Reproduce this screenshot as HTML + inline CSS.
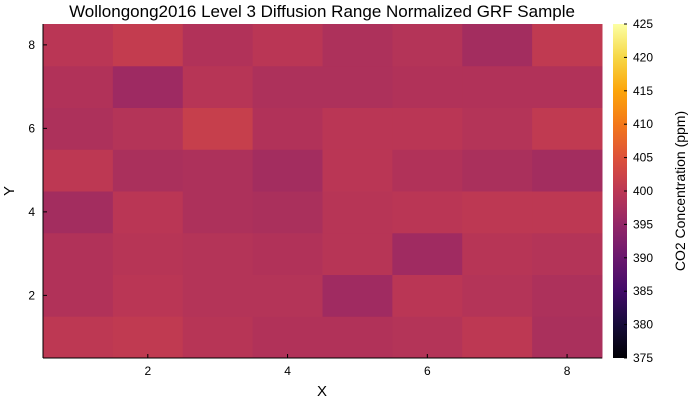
<!DOCTYPE html>
<html><head><meta charset="utf-8"><style>
body{margin:0;background:#fff;font-family:"Liberation Sans",sans-serif;}
svg text{font-family:"Liberation Sans",sans-serif;}
</style></head><body>
<svg id="c" width="700" height="400"></svg>
<script>
const xCats=[1,2,3,4,5,6,7,8];
const yCats=[1,2,3,4,5,6,7,8];
const row1=[400.2,400.6,399.4,398.6,398.6,399,400.2,397.8];
const row2=[398.6,399.8,399,399,396.6,399.8,399,398.2];
const row3=[398.6,399.4,399,398.6,399.4,396.6,399.4,399];
const row4=[397,399.8,398.2,397.8,399.4,399.8,400.2,400.2];
const row5=[400.2,397.8,398.2,397,399.8,398.6,397.8,397];
const row6=[398.2,399,401.5,398.6,399.8,399.8,399,400.6];
const row7=[398.6,396.3,399.4,398.2,398.2,398.6,398.6,398.6];
const row8=[399.8,401,398.6,399.8,398.2,399,397,400.6];
const rows=[row1,row2,row3,row4,row5,row6,row7,row8];
const xTicks=[2,4,6,8];
const yTicks=[2,4,6,8];
const cbTicks=[375,380,385,390,395,400,405,410,415,420,425];
const vmin=375,vmax=425;
const NS="http://www.w3.org/2000/svg";
const svg=document.getElementById('c');
const L=43,R=602,T=24,B=358;
const sx=v=>L+(v-0.5)/8*(R-L);
const sy=v=>B-(v-0.5)/8*(B-T);
const stops=["#000004","#160b39","#420a68","#6a176e","#932667","#bc3754","#dd513a","#f37819","#fca50a","#f6d746","#fcffa4"];
function hex(h){return [1,3,5].map(i=>parseInt(h.substr(i,2),16));}
function cmap(v){let t=Math.max(0,Math.min(1,(v-vmin)/(vmax-vmin)))*10;let i=Math.min(9,Math.floor(t));let f=t-i;let a=hex(stops[i]),b=hex(stops[i+1]);return `rgb(${a.map((c,k)=>Math.round(c+(b[k]-c)*f)).join(',')})`;}
function el(tag,attrs,txt){const e=document.createElementNS(NS,tag);for(const k in attrs)e.setAttribute(k,attrs[k]);if(txt!==undefined)e.textContent=txt;svg.appendChild(e);return e;}
rows.forEach((r,yi)=>r.forEach((v,xi)=>{
 const x0=sx(xCats[xi]-0.5),x1=sx(xCats[xi]+0.5),y0=sy(yCats[yi]+0.5),y1=sy(yCats[yi]-0.5);
 const c=el('rect',{x:x0,y:y0,width:x1-x0+0.5,height:y1-y0+0.5,fill:cmap(v)});
 
 
}));
const ax=el('line',{x1:L,y1:B,x2:R,y2:B,stroke:'#000','stroke-width':1});

const ay=el('line',{x1:L,y1:T,x2:L,y2:B,stroke:'#000','stroke-width':1});

xTicks.forEach(t=>{el('line',{x1:sx(t),y1:B,x2:sx(t),y2:B-4,stroke:'#000'});
 const l=el('text',{x:sx(t),y:B+17,'text-anchor':'middle','font-size':12},t);
 });
yTicks.forEach(t=>{el('line',{x1:L,y1:sy(t),x2:L+4,y2:sy(t),stroke:'#000'});
 const l=el('text',{x:L-8,y:sy(t)+4,'text-anchor':'end','font-size':12},t);
 });
const CL=613,CR=627;
const grad=el('defs',{});
const lg=document.createElementNS(NS,'linearGradient');lg.setAttribute('id','g');lg.setAttribute('x1','0');lg.setAttribute('y1','1');lg.setAttribute('x2','0');lg.setAttribute('y2','0');
for(let i=0;i<=20;i++){const s=document.createElementNS(NS,'stop');s.setAttribute('offset',i/20);s.setAttribute('stop-color',cmap(vmin+(vmax-vmin)*i/20));lg.appendChild(s);}
grad.appendChild(lg);
const cb=el('rect',{x:CL,y:T,width:CR-CL,height:B-T,fill:'url(#g)'});

const cy=v=>B-(v-vmin)/(vmax-vmin)*(B-T);
cbTicks.forEach(t=>{el('line',{x1:CR-3,y1:cy(t),x2:CR,y2:cy(t),stroke:'#000'});
 const l=el('text',{x:CR+6,y:cy(t)+4,'font-size':12},t);
 });
const cbt=el('text',{x:685,y:191,'text-anchor':'middle','font-size':14,transform:'rotate(-90 685 191)'},'CO2 Concentration (ppm)');

const ti=el('text',{x:322,y:17,'text-anchor':'middle','font-size':17},'Wollongong2016 Level 3 Diffusion Range Normalized GRF Sample');

const xl=el('text',{x:322,y:396,'text-anchor':'middle','font-size':15},'X');

const yl=el('text',{x:14,y:191,'text-anchor':'middle','font-size':15,transform:'rotate(-90 14 191)'},'Y');

</script>
</body></html>
